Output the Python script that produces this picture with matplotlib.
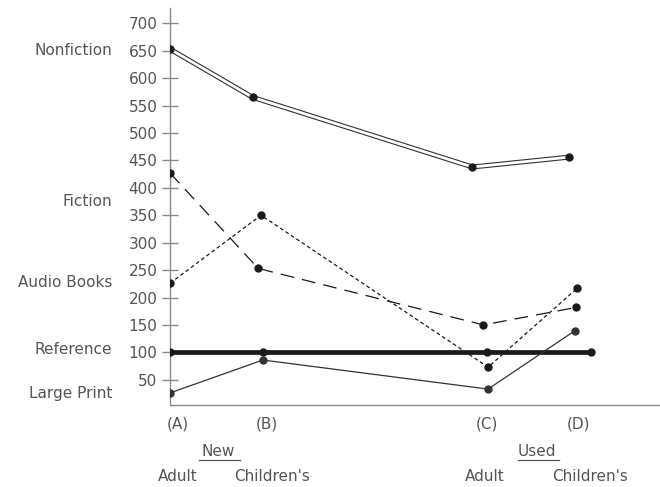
import matplotlib
matplotlib.use("Agg")
import matplotlib.pyplot as plt
import matplotlib.patheffects as pe
import matplotlib.transforms as mtransforms

plt.rcParams['font.family'] = ['DejaVu Sans']

# ---- data ----
categories = ["(A)", "(B)", "(C)", "(D)"]
cat_x = [0.08, 1.05, 3.45, 4.44]           # tick label positions
series_names = ["Nonfiction", "Fiction", "Audio Books", "Reference", "Large Print"]
nonfiction_x = [0.0, 0.90, 3.29, 4.34]
nonfiction = [653, 565, 438, 456]
fiction_x = [0.0, 0.96, 3.41, 4.42]
fiction = [427, 253, 150, 182]
audio_x = [0.0, 0.99, 3.46, 4.43]
audio = [226, 350, 73, 217]
reference_x = [0.0, 1.01, 3.45, 4.58]
reference = [100, 100, 100, 100]
largeprint_x = [0.0, 1.01, 3.46, 4.40]
largeprint = [26, 86, 33, 139]
label_y = [650, 376, 228, 106, 25]
yticks = list(range(50, 701, 50))

ink = "#1a1a1a"
txt = "#555555"
axc = "#8a8a8a"
fs = 11

fig = plt.figure(figsize=(6.6, 4.87), dpi=100)
ax = fig.add_axes([0.2576, 0.1684, 0.7424, 0.8152])
ax.set_xlim(0, 5.33)
ax.set_ylim(4, 728)

for s in ["top", "right"]:
    ax.spines[s].set_visible(False)
for s in ["left", "bottom"]:
    ax.spines[s].set_color(axc)
    ax.spines[s].set_linewidth(1.0)

ms = 5
# Nonfiction: double line
ax.plot(nonfiction_x, nonfiction, color="white", lw=2.0,
        path_effects=[pe.Stroke(linewidth=3.6, foreground="#333333"), pe.Normal()],
        solid_capstyle="butt", zorder=3)
ax.plot(nonfiction_x, nonfiction, 'o', color=ink, ms=ms, zorder=4)
# Fiction: long dash
ax.plot(fiction_x, fiction, color=ink, lw=0.9, dashes=(11, 6.5), marker='o',
        ms=ms, zorder=3)
# Audio: short dash
ax.plot(audio_x, audio, color=ink, lw=0.9, dashes=(3, 2.2), marker='o',
        ms=ms, zorder=3)
# Reference: thick
ax.plot(reference_x, reference, color=ink, lw=3.4, marker='o', ms=ms,
        solid_capstyle="butt", zorder=3)
# Large print: thin solid
ax.plot(largeprint_x, largeprint, color="#333333", lw=0.9, marker='o',
        ms=ms, zorder=3)

ax.set_yticks(yticks)
ax.set_yticklabels([str(v) for v in yticks])
ax.tick_params(axis='y', direction='inout', length=12, width=1.0,
               color=axc, labelcolor=txt, labelsize=fs, pad=3)
ax.set_xticks(cat_x)
ax.set_xticklabels(categories)
ax.tick_params(axis='x', length=0, labelcolor=txt, labelsize=fs, pad=8)

# series labels on the left
for name, yv in zip(series_names, label_y):
    ax.text(-0.63, yv, name, ha='right', va='center', fontsize=fs,
            color=txt, clip_on=False)

# group labels below
trans = mtransforms.blended_transform_factory(ax.transData, ax.transAxes)
groups = [("New", 0.52), ("Used", 3.99)]
for g, gx in groups:
    ax.text(gx, -0.118, g, ha='center', va='center', fontsize=fs,
            color=txt, transform=trans, clip_on=False)
for g, gx in groups:
    ax.plot([gx - 0.2, gx + 0.24], [-0.139, -0.139], color=txt, lw=0.9,
            transform=trans, clip_on=False)
subs = [("Adult", 0.08), ("Children's", 1.11), ("Adult", 3.42), ("Children's", 4.57)]
for s, sx in subs:
    ax.text(sx, -0.181, s, ha='center', va='center', fontsize=fs,
            color=txt, transform=trans, clip_on=False)

fig.savefig("out.png", dpi=100)
